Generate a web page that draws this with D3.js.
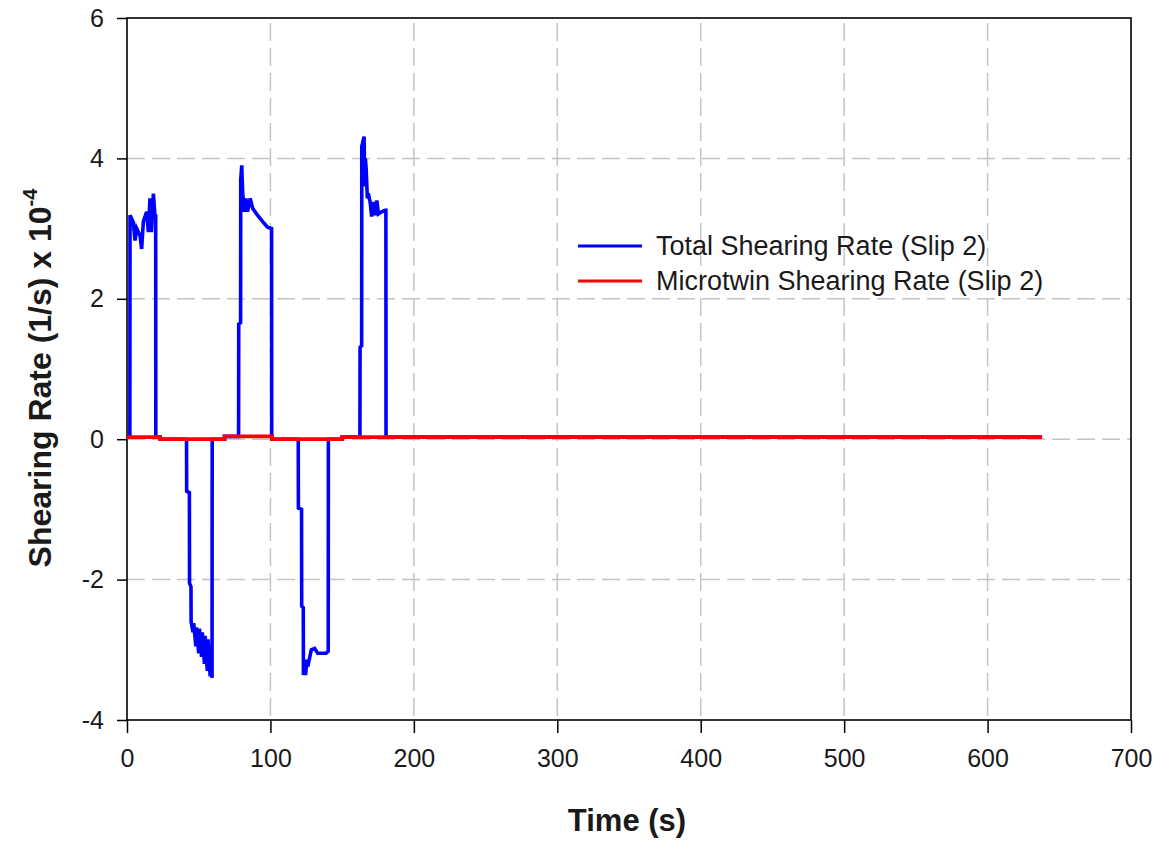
<!DOCTYPE html>
<html>
<head>
<meta charset="utf-8">
<script src="https://cdn.jsdelivr.net/npm/d3@7"></script>
<style>
  html, body { margin: 0; padding: 0; background: #fff; }
  svg { display: block; }
  text { font-family: "Liberation Sans", Arial, sans-serif; fill: #1a1a1a; }
</style>
</head>
<body>
<svg id="chart" width="1161" height="841"></svg>
<script>
// Total shearing rate on slip system 2: time (s) and rate (1/s, x 1e-4)
const totalTime = [
  0, 2, 2.1, 4.4, 5.6, 6.8, 9.1, 10.2, 11.4, 13.7, 14.9, 16, 17, 18.4, 19.5, 20, 20.1, 23, 23,
  41.5, 41.6, 43.5, 43.6, 44.6, 44.7, 46, 46.5, 48, 48.5, 50, 50.5, 52, 52.5, 54, 54.5, 56, 56.5, 58, 58.5, 59.3, 59.4, 68, 68,
  77.8, 77.9, 79.2, 79.3, 80, 80.6, 81.8, 82.9, 84.1, 85.9, 87.6, 91, 94.6, 98, 100.8, 100.9, 101, 101,
  119.4, 119.5, 121.7, 121.8, 122.9, 123, 124, 124.5, 125.4, 126, 128.5, 130.8, 133, 138.8, 140.3, 140.4, 150, 150,
  162.4, 162.5, 163.6, 163.7, 165.3, 165.8, 166.2, 166.7, 167.6, 168.2, 169.5, 170.6, 171.8, 173, 174.2, 175.3, 177.6, 179.9, 180.5, 180.6,
  638
];
const totalRate = [
  0.03, 0.03, 3.19, 3.09, 2.83, 3.0, 2.9, 2.71, 3.10, 3.24, 2.95, 3.43, 2.95, 3.5, 3.17, 3.2, 0.03, 0.03, 0,
  0, -0.74, -0.76, -2.05, -2.1, -2.6, -2.75, -2.62, -2.95, -2.68, -3.05, -2.7, -3.1, -2.75, -3.2, -2.8, -3.3, -2.85, -3.38, -2.95, -3.4, 0, 0, 0.04,
  0.04, 1.64, 1.66, 3.7, 3.9, 3.52, 3.24, 3.43, 3.24, 3.43, 3.29, 3.19, 3.10, 3.02, 3.0, 0.04, 0.04, 0,
  0, -0.98, -1.0, -2.38, -2.4, -3.36, -3.2, -3.36, -3.14, -3.24, -3.0, -2.98, -3.05, -3.05, -3.02, 0, 0, 0.03,
  0.03, 1.31, 1.33, 4.17, 4.31, 3.6, 4.0, 3.86, 3.43, 3.5, 3.38, 3.17, 3.38, 3.19, 3.40, 3.21, 3.24, 3.26, 3.26, 0.03,
  0.03
];

// Microtwin shearing rate on slip system 2
const twinTime = [0, 23, 23, 68, 68, 101, 101, 150, 150, 638];
const twinRate = [0.03, 0.03, 0, 0, 0.04, 0.04, 0, 0, 0.03, 0.03];

const xTicks = [0, 100, 200, 300, 400, 500, 600, 700];
const yTicks = [-4, -2, 0, 2, 4, 6];
const seriesNames = ["Total Shearing Rate (Slip 2)", "Microtwin Shearing Rate (Slip 2)"];
const seriesColors = ["#0000ff", "#ff0000"];

const svg = d3.select("#chart");
const plot = { left: 127, right: 1131, top: 18, bottom: 720 };

const x = d3.scaleLinear().domain([0, 700]).range([plot.left, plot.right]);
const y = d3.scaleLinear().domain([-4, 6]).range([plot.bottom, plot.top]);

// dashed grid
const grid = svg.append("g").attr("stroke", "#c4c4c4").attr("stroke-width", 1.5)
  .attr("stroke-dasharray", "18,7").attr("fill", "none");
grid.selectAll("line.h").data(yTicks.filter(v => v > -4 && v < 6)).join("line")
  .attr("x1", plot.left).attr("x2", plot.right)
  .attr("y1", d => y(d)).attr("y2", d => y(d));
grid.selectAll("line.v").data(xTicks.filter(v => v > 0 && v < 700)).join("line")
  .attr("x1", d => x(d)).attr("x2", d => x(d))
  .attr("y1", plot.top + 5).attr("y2", plot.bottom);

// axes (plain hyphen for negatives)
const fmt = d => String(d);
const xAxis = d3.axisBottom(x).tickValues(xTicks).tickFormat(fmt).tickSize(13).tickPadding(16);
const yAxis = d3.axisLeft(y).tickValues(yTicks).tickFormat(fmt).tickSize(10).tickPadding(13);

const gx = svg.append("g").attr("transform", `translate(0,${plot.bottom})`).call(xAxis);
const gy = svg.append("g").attr("transform", `translate(${plot.left},0)`).call(yAxis);
[gx, gy].forEach(g => {
  g.select(".domain").remove();
  g.selectAll(".tick line").attr("stroke", "#000").attr("stroke-width", 1.5);
  g.selectAll(".tick text").attr("font-size", 25).attr("fill", "#1a1a1a")
    .attr("font-family", "'Liberation Sans', Arial, sans-serif");
});

// frame
svg.append("rect")
  .attr("x", plot.left).attr("y", plot.top)
  .attr("width", plot.right - plot.left).attr("height", plot.bottom - plot.top)
  .attr("fill", "none").attr("stroke", "#000").attr("stroke-width", 1.6);

// series
const line = d3.line().x(d => x(d[0])).y(d => y(d[1])).curve(d3.curveLinear);
const totalData = totalTime.map((t, i) => [t, totalRate[i]]);
const twinData = twinTime.map((t, i) => [t, twinRate[i]]);

svg.append("path").datum(totalData).attr("d", line)
  .attr("fill", "none").attr("stroke", seriesColors[0]).attr("stroke-width", 3.6)
  .attr("stroke-linejoin", "miter");
svg.append("path").datum(twinData).attr("d", line)
  .attr("fill", "none").attr("stroke", seriesColors[1]).attr("stroke-width", 3.8);

// legend
const legend = svg.append("g").attr("transform", "translate(578,246)");
seriesNames.forEach((name, i) => {
  const row = legend.append("g").attr("transform", `translate(0,${i * 35})`);
  row.append("line").attr("x1", 0).attr("x2", 64).attr("y1", 0).attr("y2", 0)
    .attr("stroke", seriesColors[i]).attr("stroke-width", 3);
  row.append("text").attr("x", 78).attr("y", 9).attr("font-size", 27).text(name);
});

// axis titles
svg.append("text")
  .attr("x", 627).attr("y", 831)
  .attr("text-anchor", "middle").attr("font-size", 31).attr("font-weight", "bold")
  .text("Time (s)");

const yTitle = svg.append("text")
  .attr("transform", "translate(51,378) rotate(-90)")
  .attr("text-anchor", "middle").attr("font-size", 32).attr("font-weight", "bold");
yTitle.append("tspan").text("Shearing Rate (1/s) x 10");
yTitle.append("tspan").attr("font-size", 20).attr("dy", -14).text("-4");
</script>
</body>
</html>
